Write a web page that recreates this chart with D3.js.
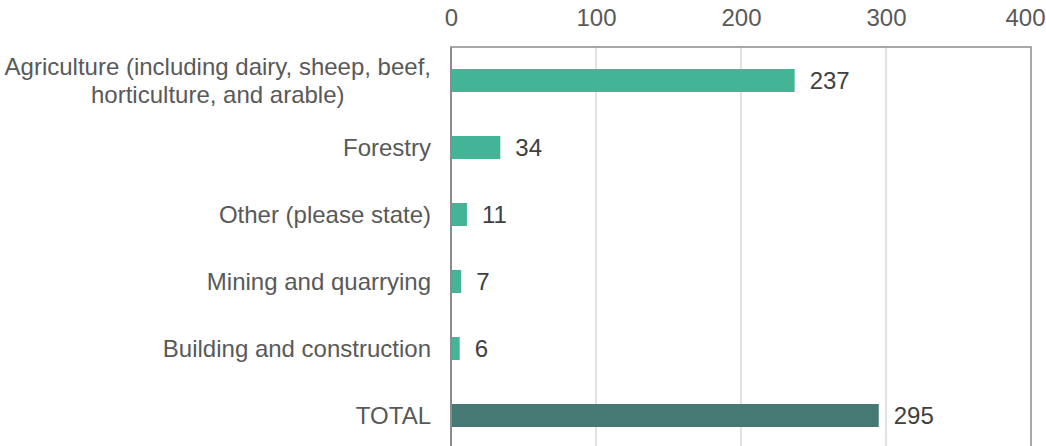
<!DOCTYPE html>
<html><head><meta charset="utf-8">
<script src="https://cdn.jsdelivr.net/npm/d3@7"></script>
<style>body{margin:0;background:#fff}svg{display:block}text{font-family:"Liberation Sans",Arial,sans-serif}</style>
</head><body><svg id="c" width="1046" height="446"></svg>
<script>
const categories = ["Agriculture (including dairy, sheep, beef,|horticulture, and arable)", "Forestry", "Other (please state)", "Mining and quarrying", "Building and construction", "TOTAL"];
const values = [237, 34, 11, 7, 6, 295];
const barColors = ["#43b596", "#43b596", "#43b596", "#43b596", "#43b596", "#467874"];
const tickValues = [0, 100, 200, 300, 400];

const svg = d3.select("#c");
const x = d3.scaleLinear().domain([0, 400]).range([451, 1031]);
const y = d3.scaleBand().domain(categories).range([47, 449]).paddingInner(0.657).paddingOuter(0.3285);
const fs = 24;

// gridlines
svg.append("g").selectAll("line").data(tickValues.slice(1, -1)).join("line")
  .attr("x1", d => x(d)).attr("x2", d => x(d)).attr("y1", 47).attr("y2", 446)
  .attr("stroke", "#d9d9d9").attr("stroke-width", 1.5);
// box
svg.append("path").attr("d", `M${x(0)},446V47H${x(400)}V446`).attr("fill", "none").attr("stroke", "#8c8c8c").attr("stroke-width", 1.5);

// top axis
const ax = svg.append("g").attr("transform", "translate(0,47)").call(d3.axisTop(x).tickValues(tickValues).tickSize(0).tickPadding(21));
ax.select(".domain").remove();
ax.selectAll("text").attr("font-size", fs).attr("fill", "#595959").attr("font-family", '"Liberation Sans",Arial,sans-serif');
ax.selectAll(".tick").filter(d => d === 400).select("text").attr("text-anchor", "end").attr("x", 1045 - x(400));

// bars
svg.append("g").selectAll("rect").data(values).join("rect")
  .attr("x", x(0)).attr("y", (d, i) => y(categories[i])).attr("width", d => x(d) - x(0)).attr("height", y.bandwidth())
  .attr("fill", (d, i) => barColors[i]);
// left axis line
svg.append("line").attr("x1", x(0)).attr("x2", x(0)).attr("y1", 47).attr("y2", 446).attr("stroke", "#8c8c8c").attr("stroke-width", 2);

// value labels
svg.append("g").selectAll("text").data(values).join("text")
  .attr("x", d => x(d) + 15).attr("y", (d, i) => y(categories[i]) + y.bandwidth() / 2)
  .attr("dy", "0.35em").attr("font-size", fs).attr("fill", "#404040").text(d => d);

// category labels
const lab = svg.append("g").selectAll("text").data(categories).join("text")
  .attr("text-anchor", "middle").attr("font-size", fs).attr("fill", "#595959")
  .attr("transform", d => `translate(0,${y(d) + y.bandwidth() / 2})`);
lab.each(function (d) {
  const lines = d.split("|");
  const t = d3.select(this);
  const lh = 28;
  lines.forEach((l, k) => {
    t.append("tspan").attr("x", 0).attr("y", (k - (lines.length - 1) / 2) * lh).attr("dy", "0.35em").text(l);
  });
  const w = this.getBBox().width;
  t.selectAll("tspan").attr("x", 431 - w / 2);
});
</script></body></html>
